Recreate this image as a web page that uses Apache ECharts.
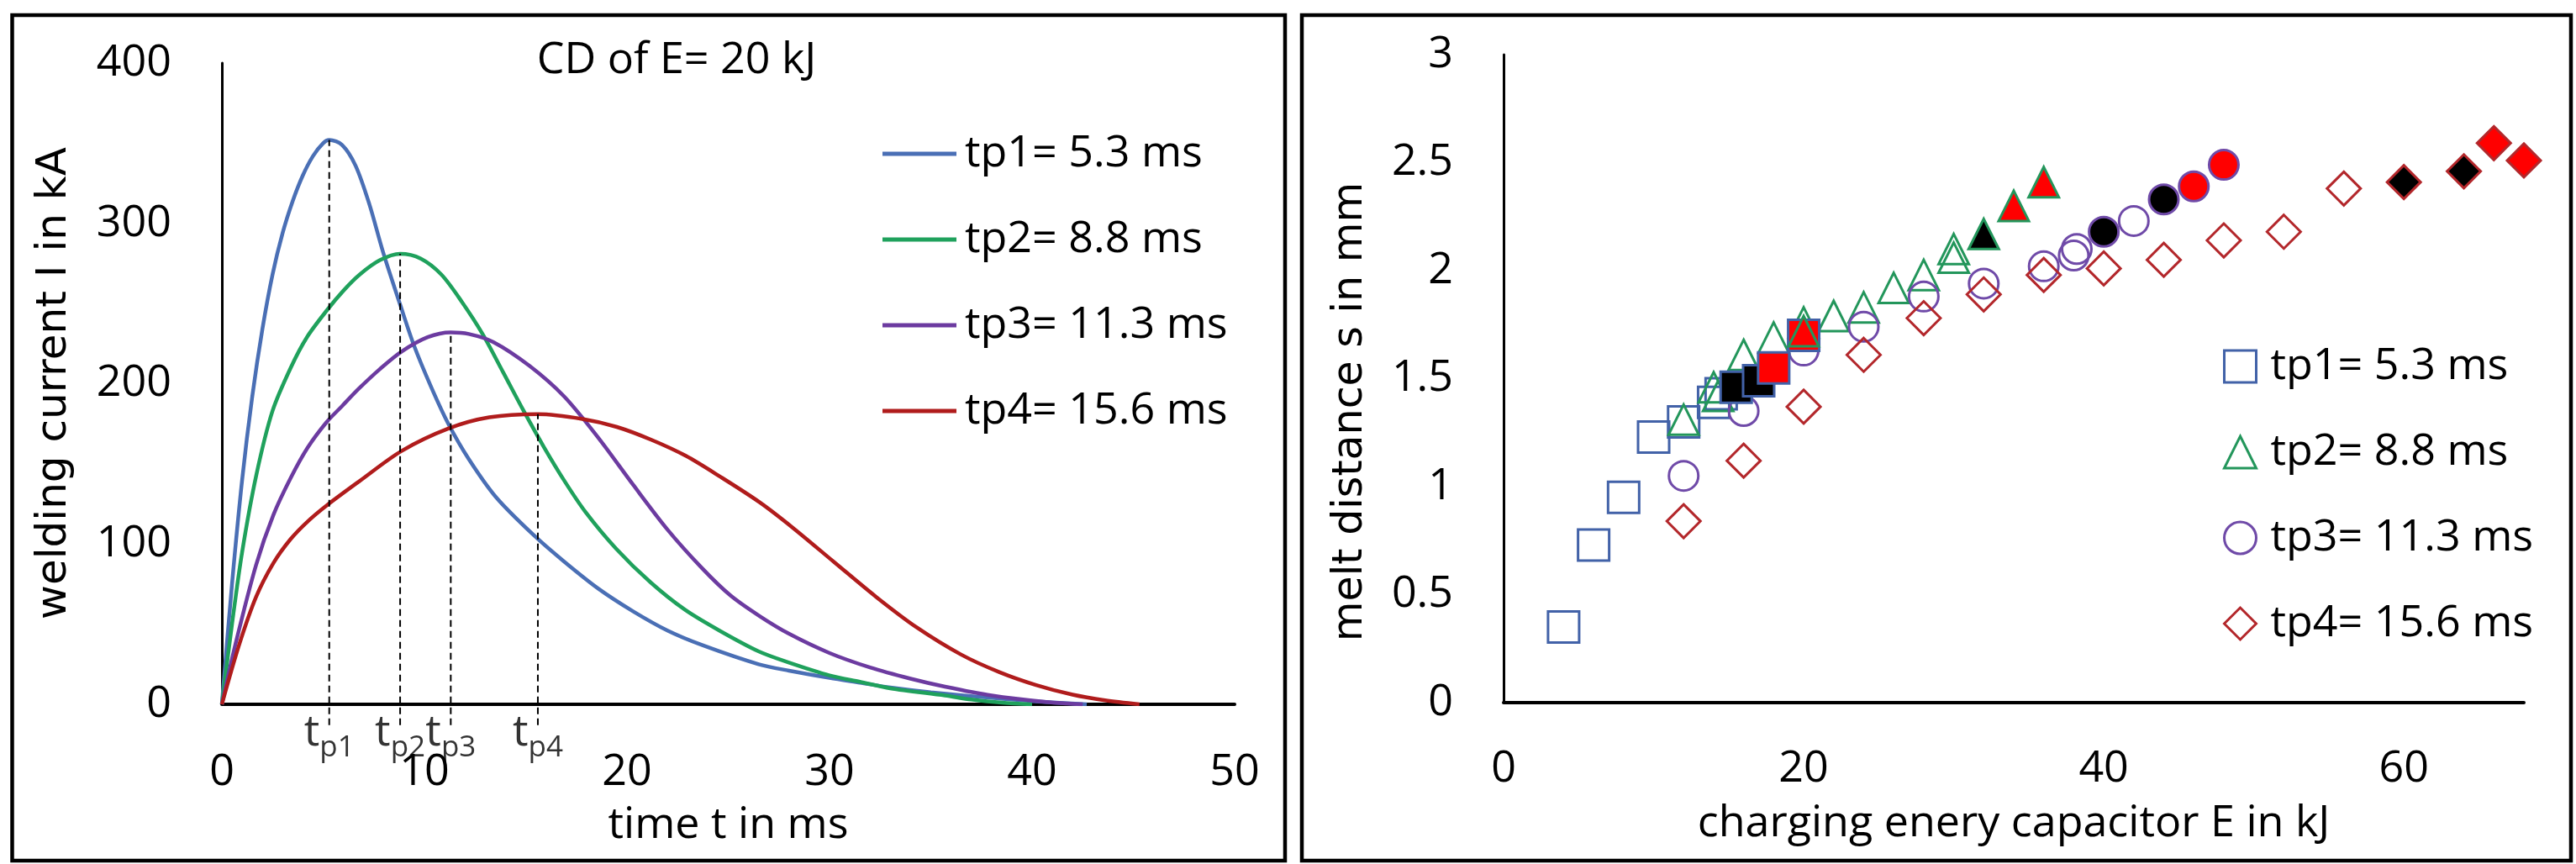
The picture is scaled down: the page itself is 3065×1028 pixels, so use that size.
<!DOCTYPE html>
<html>
<head>
<meta charset="utf-8">
<script src="https://cdn.jsdelivr.net/npm/echarts@6/dist/echarts.min.js"></script>
<style>
  html, body { margin: 0; padding: 0; background: #fff; }
  #chart { width: 3065px; height: 1028px; }
</style>
</head>
<body>
<div id="chart"></div>
<script>
// ---- Left panel: welding current pulses of a capacitor discharge (E = 20 kJ) ----
const peakTimes = [5.3, 8.8, 11.3, 15.6];               // ms
const peakTags = ['p1', 'p2', 'p3', 'p4'];
const pulseNames = peakTimes.map((t, i) => 'tp' + (i + 1) + '= ' + t + ' ms');

// [time t in ms, current I in kA]
const currentTp1 = [[0,0],[0.5,75],[1.0,140],[1.5,192],[2.0,234],[2.5,268],[3.0,294],[3.5,314],[4.0,330],[4.5,342],[5.0,350],[5.3,352],[5.93,349],[6.6,336],[7.28,312],[7.96,282],[8.81,249],[9.48,224],[10.33,198],[11.18,175],[12.19,153],[13.55,129],[15.44,105],[16.9,89],[18.6,72],[20.3,58],[22.0,46],[23.7,37],[26.5,25],[28,21],[30,16.5],[31.5,13.5],[33,10.5],[35,7.5],[38,4],[40,2],[42.7,0]];
const currentTp2 = [[0,0],[0.5,50],[1.0,95],[1.7,143],[2.5,183],[3.4,210],[4.2,229],[5.2,246],[6.0,258],[6.8,268],[7.8,277],[8.8,281],[9.82,278],[10.84,268],[11.85,251],[12.87,231],[13.89,207],[14.9,183],[15.92,160],[16.93,139],[17.95,120],[19.47,97],[21.17,76],[22.86,59],[24.56,46],[26.5,33],[28,26],[30,18],[31.5,14],[33,10],[35.7,5.5],[37,3],[38.5,1],[40,0]];
const currentTp3 = [[0,0],[0.68,38],[1.69,87],[2.54,118],[3.39,141],[4.23,160],[5.17,176],[5.93,186],[6.77,197],[7.79,209],[8.87,220],[10.16,229],[11.3,232],[12.19,231],[13.4,226],[15.2,211],[16.9,192],[18.6,166],[20.3,137],[22.0,109],[23.7,85],[25.1,68],[26.55,55],[28,44],[30,32],[32,23],[34,16],[35.7,11],[38,5.5],[40.7,1.5],[42.5,0]];
const currentTp4 = [[0,0],[0.85,37],[1.69,67],[2.54,88],[3.39,103],[4.23,114],[5.17,124],[6.77,139],[8.87,158],[11.18,172],[13.2,179],[15.6,181],[17.8,178],[19.5,173],[21.2,165],[22.9,155],[24.6,142],[26.55,126],[28.2,110],[30.2,89],[32.3,67],[34.3,48],[36.5,31],[38.4,20],[40.2,12],[42,6],[43.6,2.5],[45.3,0]];
const currents = [currentTp1, currentTp2, currentTp3, currentTp4];

// ---- Right panel: melt distance s in mm over charging energy E in kJ ----
const meltNames = ['melt tp1', 'melt tp2', 'melt tp3', 'melt tp4'];
const meltTp1 = [[4,0.35],[6,0.73],[8,0.95],[10,1.23],[12,1.30],[14,1.39],[14.5,1.43]];
const meltTp1Black = [[15.5,1.46],[17,1.49]];
const meltTp1Red = [[18,1.55],[20,1.70]];
const meltTp2 = [[12,1.31],[14,1.46],[14.3,1.42],[16,1.61],[18,1.69],[20,1.76],[22,1.79],[24,1.83],[26,1.92],[28,1.98],[30,2.06],[30,2.10]];
const meltTp2Black = [[32,2.17]];
const meltTp2Red = [[20,1.72],[34,2.30],[36,2.41]];
const meltTp3 = [[12,1.05],[16,1.35],[20,1.63],[24,1.74],[28,1.88],[32,1.94],[36,2.02],[38,2.07],[38.2,2.10],[42,2.23]];
const meltTp3Black = [[40,2.18],[44,2.33]];
const meltTp3Red = [[46,2.39],[48,2.49]];
const meltTp4 = [[12,0.84],[16,1.12],[20,1.37],[24,1.61],[28,1.78],[32,1.89],[36,1.98],[40,2.01],[44,2.05],[48,2.14],[52,2.18],[56,2.38]];
const meltTp4Black = [[60,2.41],[64,2.46]];
const meltTp4Red = [[66,2.59],[68,2.51]];

const meltOpen = [meltTp1, meltTp2, meltTp3, meltTp4];
const meltBlack = [meltTp1Black, meltTp2Black, meltTp3Black, meltTp4Black];
const meltRed = [meltTp1Red, meltTp2Red, meltTp3Red, meltTp4Red];

// ---- styling ----
const FONT = '"Open Sans", "Noto Sans", sans-serif';
const TITLE_FONT = '"DejaVu Sans", Verdana, sans-serif';
const INK = '#000';
const lineColors = ['#4A6FB5', '#1FA15C', '#6C3BA0', '#B01C1C'];
const markerColors = ['#4262A8', '#23965B', '#6F4AA8', '#B3272B'];
const markerSymbols = ['rect', 'triangle', 'circle', 'diamond'];
const markerSizes = [37, 36, 35, 40];
const dropBelowAxis = -13;   // dashed guides run slightly past the time axis

const axisLabel = { color: INK, fontSize: 52, fontFamily: FONT };

const series = [];

// current pulses
currents.forEach((data, i) => {
  series.push({
    type: 'line', name: pulseNames[i], xAxisIndex: 0, yAxisIndex: 0,
    data: data, symbol: 'none', showSymbol: false, smooth: 0.3,
    lineStyle: { color: lineColors[i], width: 4.5 },
    itemStyle: { color: lineColors[i] },
    z: 2
  });
});

// dashed guides from each peak down through the time axis
currents.forEach((data, i) => {
  const peak = Math.max(...data.map(p => p[1]));
  series.push({
    type: 'line', name: 'guide ' + peakTags[i], xAxisIndex: 0, yAxisIndex: 0,
    data: [[peakTimes[i], dropBelowAxis], [peakTimes[i], peak]],
    symbol: 'none', clip: false, silent: true,
    lineStyle: { color: '#000', width: 2, type: [8, 5] },
    z: 3
  });
});

// t_p labels under the axis
series.push({
  type: 'scatter', name: 'tp labels', xAxisIndex: 0, yAxisIndex: 0,
  data: peakTimes.map((t, i) => ({ value: [t, 0], label: { formatter: '{t|t}{s|' + peakTags[i] + '}' } })),
  symbolSize: 1, itemStyle: { color: 'rgba(0,0,0,0)' }, silent: true, clip: false,
  label: {
    show: true, position: 'bottom', distance: 8, color: INK, fontFamily: FONT,
    rich: {
      t: { fontSize: 52, lineHeight: 52, verticalAlign: 'top', fontFamily: FONT, color: INK },
      s: { fontSize: 35, lineHeight: 35, padding: [26, 0, 0, 0], verticalAlign: 'top', fontFamily: FONT, color: INK }
    }
  },
  z: 4
});

// melt distance: open markers
meltOpen.forEach((data, i) => {
  series.push({
    type: 'scatter', name: meltNames[i], xAxisIndex: 1, yAxisIndex: 1,
    data: data, symbol: markerSymbols[i], symbolSize: markerSizes[i],
    itemStyle: { color: 'rgba(255,255,255,0)', borderColor: markerColors[i], borderWidth: 3, opacity: 1 },
    z: 2
  });
});
// highlighted points: black and red fills
[[meltBlack, '#000000'], [meltRed, '#FF0000']].forEach(([groups, fill]) => {
  groups.forEach((data, i) => {
    series.push({
      type: 'scatter', name: meltNames[i] + (fill === '#000000' ? ' black' : ' red'),
      xAxisIndex: 1, yAxisIndex: 1,
      data: data, symbol: markerSymbols[i], symbolSize: markerSizes[i],
      itemStyle: { color: fill, borderColor: markerColors[i], borderWidth: 3, opacity: 1 },
      z: 3
    });
  });
});

const option = {
  animation: false,
  backgroundColor: '#ffffff',
  textStyle: { fontFamily: FONT, color: INK },
  grid: [
    { left: 264, top: 75, width: 1205, height: 763, outerBoundsMode: 'none', containLabel: false },
    { left: 1789, top: 65, width: 1214, height: 771, outerBoundsMode: 'none', containLabel: false }
  ],
  xAxis: [
    {
      type: 'value', gridIndex: 0, min: 0, max: 50, interval: 10,
      axisLine: { show: true, onZero: false, lineStyle: { color: '#000', width: 4 } },
      axisTick: { show: false }, splitLine: { show: false },
      axisLabel: Object.assign({ margin: 55 }, axisLabel),
      name: 'time t in ms', nameLocation: 'middle', nameGap: 118,
      nameTextStyle: { fontSize: 52, fontFamily: FONT, color: INK }
    },
    {
      type: 'value', gridIndex: 1, min: 0, max: 68, interval: 20,
      axisLine: { show: true, onZero: false, lineStyle: { color: '#000', width: 4 } },
      axisTick: { show: false }, splitLine: { show: false },
      axisLabel: Object.assign({ margin: 53, showMaxLabel: false }, axisLabel),
      name: 'charging enery capacitor E in kJ', nameLocation: 'middle', nameGap: 118,
      nameTextStyle: { fontSize: 52, fontFamily: FONT, color: INK }
    }
  ],
  yAxis: [
    {
      type: 'value', gridIndex: 0, min: 0, max: 400, interval: 100,
      axisLine: { show: true, onZero: false, lineStyle: { color: '#000', width: 3 } },
      axisTick: { show: false }, splitLine: { show: false },
      axisLabel: Object.assign({ margin: 60 }, axisLabel)
    },
    {
      type: 'value', gridIndex: 1, min: 0, max: 3, interval: 0.5,
      axisLine: { show: true, onZero: false, lineStyle: { color: '#000', width: 3 } },
      axisTick: { show: false }, splitLine: { show: false },
      axisLabel: Object.assign({ margin: 60 }, axisLabel)
    }
  ],
  legend: [
    {
      data: pulseNames.map((n, i) => ({ name: n, icon: 'rect', itemStyle: { color: lineColors[i] } })),
      orient: 'vertical', left: 1045, top: 152,
      itemWidth: 88, itemHeight: 5, itemGap: 50, selectedMode: false,
      textStyle: { fontSize: 52, lineHeight: 52, fontFamily: FONT, color: INK, padding: [0, 0, 0, 5] }
    },
    {
      data: meltNames, orient: 'vertical', left: 2640, top: 405,
      itemWidth: 38, itemHeight: 38, itemGap: 50, selectedMode: false,
      itemStyle: { borderWidth: 3 },
      formatter: name => pulseNames[meltNames.indexOf(name)],
      textStyle: { fontSize: 52, lineHeight: 52, fontFamily: FONT, color: INK, padding: [0, 0, 0, 12] }
    }
  ],
  graphic: [
    { type: 'rect', shape: { x: 14.5, y: 18, width: 1514.5, height: 1006 }, style: { fill: 'none', stroke: '#000', lineWidth: 4.5 }, silent: true },
    { type: 'rect', shape: { x: 1549, y: 18, width: 1510, height: 1006 }, style: { fill: 'none', stroke: '#000', lineWidth: 4.5 }, silent: true },
    { type: 'text', x: 805, y: 72, silent: true,
      style: { text: 'CD of E= 20 kJ', fontSize: 52, fontFamily: FONT, fill: INK, align: 'center', verticalAlign: 'middle' } },
    { type: 'text', x: 65, y: 456, rotation: Math.PI / 2, silent: true,
      style: { text: 'welding current I in kA', fontSize: 50, fontFamily: TITLE_FONT, fill: INK, align: 'center', verticalAlign: 'middle' } },
    { type: 'text', x: 1607, y: 490, rotation: Math.PI / 2, silent: true,
      style: { text: 'melt distance s in mm', fontSize: 49, fontFamily: TITLE_FONT, fill: INK, align: 'center', verticalAlign: 'middle' } }
  ],
  series: series
};

const chart = echarts.init(document.getElementById('chart'), null, { renderer: 'canvas' });
chart.setOption(option);
</script>
</body>
</html>
